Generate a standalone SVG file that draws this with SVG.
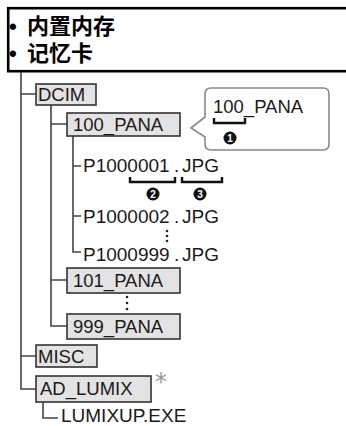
<svg xmlns="http://www.w3.org/2000/svg" width="346" height="426" viewBox="0 0 346 426">
<style>
.hdr{font-family:"Noto Sans CJK SC","Noto Sans",sans-serif;font-size:22px;font-weight:bold;fill:#000}
.bul{font-family:"Liberation Sans",Arial,sans-serif;font-weight:bold}
.t{font-family:"Liberation Sans",Arial,sans-serif;font-size:18.5px;fill:#1a1a1a}
.f{font-family:"Liberation Sans",Arial,sans-serif;font-size:19px;fill:#1a1a1a}
.box{fill:#e3e3e3;stroke:#333;stroke-width:1.6}
.ln{fill:none;stroke:#444;stroke-width:1.6}
.br{fill:none;stroke:#111;stroke-width:2.4}
.num{font-family:"Liberation Sans",Arial,sans-serif;font-size:10px;font-weight:bold;fill:#fff;text-anchor:middle}
.dot{fill:#222}
</style>
<rect width="346" height="426" fill="#fff"/>
<g id="header">
<rect x="8.2" y="8.2" width="350" height="63" fill="#fff" stroke="#000" stroke-width="2.6"/>
<text class="hdr" x="9" y="34"><tspan class="bul">•</tspan><tspan x="27">内置内存</tspan></text>
<text class="hdr" x="9" y="61"><tspan class="bul">•</tspan><tspan x="27">记忆卡</tspan></text>
</g>
<g id="connectors">
<path class="ln" d="M21,72 V389 H36 M21,94 H36 M21,356 H36"/>
<path class="ln" d="M51,105 V326 H67 M51,124 H67 M51,280 H67"/>
<path class="ln" d="M73,136 V252 H81 M73,166 H81 M73,216 H81"/>
<path class="ln" d="M43,402 V418 H58"/>
</g>
<g id="DCIM"><rect class="box" x="36" y="84" width="60" height="21"/><text class="t" x="38" y="101">DCIM</text></g>
<g id="n100_PANA"><rect class="box" x="67" y="113" width="113" height="23"/><text class="t" x="73" y="131">100_PANA</text></g>
<g id="callout">
<path d="M211,88 H323 Q329,88 329,94 V144 Q329,150 323,150 H211 Q205,150 205,144 V137 L191,128 L205,117 V94 Q205,88 211,88 Z" fill="#fff" stroke="#888" stroke-width="1.6"/>
<text class="t" x="213" y="113">100_PANA</text>
<path class="br" d="M214,118 V123 H245 V118"/>
<circle cx="230" cy="138" r="6.5" fill="#111"/><text class="num" x="230" y="141.5">1</text>
</g>
<g id="file1">
<text class="f" x="83" y="172">P1000001<tspan x="174">.</tspan><tspan x="182">JPG</tspan></text>
<path class="br" d="M130,177 V182 H175 V177 M182,177 V182 H222 V177"/>
<circle cx="153" cy="194" r="6.5" fill="#111"/><text class="num" x="153" y="197.5">2</text>
<circle cx="200" cy="194" r="6.5" fill="#111"/><text class="num" x="200" y="197.5">3</text>
</g>
<g id="file2"><text class="f" x="83" y="223">P1000002<tspan x="174">.</tspan><tspan x="182">JPG</tspan></text></g>
<g id="dots1"><circle class="dot" cx="167" cy="231" r="1.3"/><circle class="dot" cx="167" cy="236" r="1.3"/><circle class="dot" cx="167" cy="241" r="1.3"/></g>
<g id="file999"><text class="f" x="83" y="261">P1000999<tspan x="174">.</tspan><tspan x="182">JPG</tspan></text></g>
<g id="n101_PANA"><rect class="box" x="67" y="268" width="113" height="25"/><text class="t" x="73" y="287">101_PANA</text></g>
<g id="dots2"><circle class="dot" cx="127" cy="297" r="1.3"/><circle class="dot" cx="127" cy="303" r="1.3"/><circle class="dot" cx="127" cy="309" r="1.3"/></g>
<g id="n999_PANA"><rect class="box" x="67" y="314" width="113" height="25"/><text class="t" x="73" y="333">999_PANA</text></g>
<g id="MISC"><rect class="box" x="36" y="345" width="61" height="22"/><text class="t" x="38" y="363">MISC</text></g>
<g id="AD_LUMIX"><rect class="box" x="36" y="376" width="115" height="26"/><text class="t" x="40" y="395">AD_LUMIX</text>
<text x="155" y="390" font-family="'DejaVu Sans',sans-serif" font-size="24" fill="#999">*</text></g>
<g id="LUMIXUP"><text class="f" x="61" y="422">LUMIXUP.EXE</text></g>
</svg>
